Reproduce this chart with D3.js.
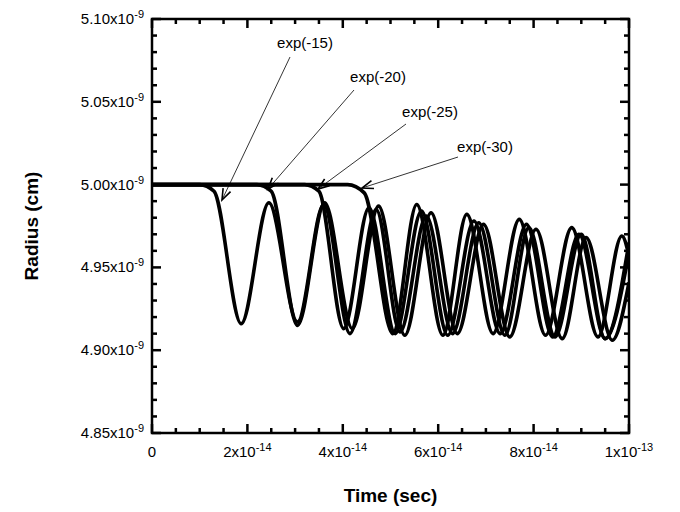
<!DOCTYPE html>
<html><head><meta charset="utf-8">
<script src="https://cdn.jsdelivr.net/npm/d3@7"></script>
<style>body{margin:0;background:#fff}</style></head>
<body><svg id="c" width="680" height="512"></svg>
<script>
// time in units of 1e-14 s, radius in units of 1e-9 cm (extrema)
var curve15 = [[0,5.000],[1.0,5.000],[1.3,4.996],[1.87,4.916],[2.45,4.989],[3.05,4.917],[3.6,4.988],[4.15,4.910],[4.7,4.985],[5.2,4.911],[5.75,4.981],[6.3,4.910],[6.85,4.977],[7.4,4.909],[7.9,4.974],[8.45,4.908],[9.0,4.970],[9.5,4.907],[10,4.959]];
var curve20 = [[0,5.000],[2.2,5.000],[2.5,4.996],[3.05,4.915],[3.62,4.989],[4.2,4.913],[4.75,4.987],[5.3,4.909],[5.85,4.983],[6.4,4.910],[6.95,4.976],[7.5,4.908],[8.05,4.973],[8.6,4.907],[9.1,4.968],[9.65,4.906],[10,4.941]];
var curve25 = [[0,5.000],[3.2,5.000],[3.5,4.996],[4.02,4.913],[4.55,4.986],[5.1,4.910],[5.65,4.984],[6.2,4.909],[6.75,4.978],[7.3,4.910],[7.85,4.976],[8.4,4.908],[8.95,4.970],[9.5,4.907],[10,4.965]];
var curve30 = [[0,5.000],[4.1,5.000],[4.45,4.995],[5.05,4.910],[5.55,4.988],[6.1,4.909],[6.6,4.982],[7.15,4.910],[7.7,4.979],[8.25,4.909],[8.8,4.974],[9.35,4.908],[9.85,4.969],[10,4.957]];
var series = [curve15, curve20, curve25, curve30];
var labels = ['exp(-15)','exp(-20)','exp(-25)','exp(-30)'];
var xTicks = [0,2,4,6,8,10];
var xTickLabels = ['0','2x10','4x10','6x10','8x10','1x10'];
var xTickExp = ['','-14','-14','-14','-14','-13'];
var yTicks = [4.85,4.90,4.95,5.00,5.05,5.10];

var svg = d3.select('#c');
var L = 152, R = 629, T = 19, B = 433;
var x = d3.scaleLinear().domain([0,10]).range([L,R]);
var y = d3.scaleLinear().domain([4.85,5.10]).range([B,T]);

svg.append('defs').append('clipPath').attr('id','clip')
  .append('rect').attr('x',L).attr('y',T).attr('width',R-L).attr('height',B-T);

var line = d3.line().x(function(d){return x(d[0]);}).y(function(d){return y(d[1]);}).curve(d3.curveMonotoneX);
svg.append('g').attr('clip-path','url(#clip)').selectAll('path').data(series).enter().append('path')
  .attr('d', line).attr('fill','none').attr('stroke','#000').attr('stroke-width',3.6);

// frame and ticks
svg.append('rect').attr('x',L).attr('y',T).attr('width',R-L).attr('height',B-T)
  .attr('fill','none').attr('stroke','#000').attr('stroke-width',2.5);
var ax = svg.append('g').attr('stroke','#000').attr('stroke-width',2.5);
d3.range(0,10.01,0.5).forEach(function(t){
  var len = Math.abs(t % 2) < 0.01 ? 9 : 5;
  ax.append('line').attr('x1',x(t)).attr('x2',x(t)).attr('y1',B).attr('y2',B-len);
  ax.append('line').attr('x1',x(t)).attr('x2',x(t)).attr('y1',T).attr('y2',T+len);
});
d3.range(0,26,1).forEach(function(i){
  var v = 4.85 + i*0.01, len = i % 5 === 0 ? 9 : 5;
  ax.append('line').attr('y1',y(v)).attr('y2',y(v)).attr('x1',L).attr('x2',L+len);
  ax.append('line').attr('y1',y(v)).attr('y2',y(v)).attr('x1',R).attr('x2',R-len);
});

var font = 'Liberation Sans, Arial, sans-serif';
yTicks.forEach(function(v){
  var t = svg.append('text').attr('x',L-8).attr('y',y(v)+5).attr('text-anchor','end')
    .attr('font-family',font).attr('font-size',15);
  t.append('tspan').text(v.toFixed(2)+'x10');
  t.append('tspan').attr('dy',-6).attr('font-size',11).text('-9');
});
xTicks.forEach(function(v,i){
  var t = svg.append('text').attr('x',x(v)).attr('y',B+24).attr('text-anchor','middle')
    .attr('font-family',font).attr('font-size',15);
  t.append('tspan').text(xTickLabels[i]);
  if (xTickExp[i]) t.append('tspan').attr('dy',-6).attr('font-size',11).text(xTickExp[i]);
});

svg.append('text').attr('x',(L+R)/2).attr('y',502).attr('text-anchor','middle')
  .attr('font-family',font).attr('font-size',19).attr('font-weight','bold').text('Time (sec)');
svg.append('text').attr('transform','translate(38,'+((T+B)/2)+') rotate(-90)').attr('text-anchor','middle')
  .attr('font-family',font).attr('font-size',19).attr('font-weight','bold').text('Radius (cm)');

// annotations: label position, line start, arrow tip
var notes = [
  {lx:305, ly:48, sx:290, sy:57, ex:222, ey:200},
  {lx:378, ly:82, sx:354, sy:90, ex:268, ey:189},
  {lx:430, ly:117, sx:406, sy:124, ex:318, ey:189},
  {lx:485, ly:152, sx:458, sy:157, ex:362, ey:188}
];
notes.forEach(function(n,i){
  svg.append('text').attr('x',n.lx).attr('y',n.ly).attr('text-anchor','middle')
    .attr('font-family',font).attr('font-size',15).text(labels[i]);
  svg.append('line').attr('x1',n.sx).attr('y1',n.sy).attr('x2',n.ex).attr('y2',n.ey)
    .attr('stroke','#000').attr('stroke-width',0.8);
  var a = Math.atan2(n.ey-n.sy, n.ex-n.sx), h = 12, w = 0.35;
  var p1 = [n.ex - h*Math.cos(a-w), n.ey - h*Math.sin(a-w)];
  var p2 = [n.ex - h*Math.cos(a+w), n.ey - h*Math.sin(a+w)];
  svg.append('path').attr('d','M'+p1+'L'+n.ex+','+n.ey+'L'+p2)
    .attr('fill','none').attr('stroke','#000').attr('stroke-width',1.6);
});
</script></body></html>
